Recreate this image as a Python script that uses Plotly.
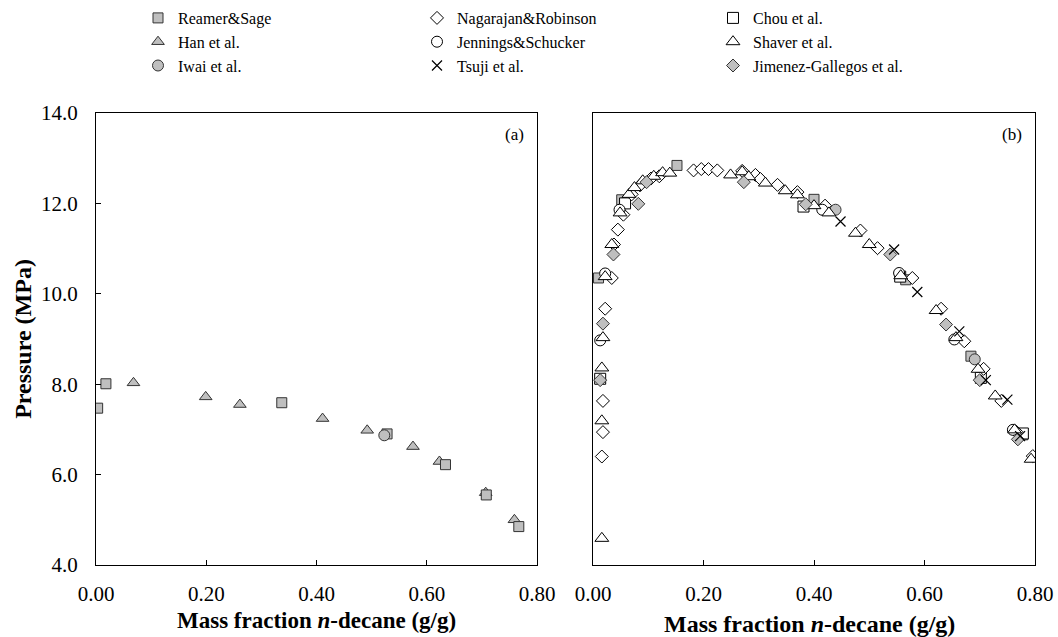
import plotly.graph_objects as go

# ---------------- Panel (a) data ----------------
a_reamer_x = [0.003, 0.018, 0.337, 0.528, 0.634, 0.708, 0.767]
a_reamer_p = [7.47, 8.01, 7.59, 6.90, 6.22, 5.55, 4.85]
a_han_x = [0.068, 0.199, 0.261, 0.411, 0.492, 0.575, 0.623, 0.707, 0.759]
a_han_p = [8.03, 7.72, 7.55, 7.24, 6.98, 6.62, 6.29, 5.60, 5.00]
a_iwai_x = [0.523]
a_iwai_p = [6.87]

# ---------------- Panel (b) data ----------------
b_reamer_x = [0.010, 0.052, 0.152, 0.400, 0.566, 0.684, 0.778]
b_reamer_p = [10.35, 12.08, 12.84, 12.09, 10.31, 8.62, 6.88]
b_nagarajan_x = [0.016, 0.018, 0.018, 0.022, 0.034, 0.038, 0.045, 0.055, 0.070, 0.085,
                 0.105, 0.120, 0.182, 0.196, 0.209, 0.225, 0.270, 0.294, 0.303, 0.334,
                 0.370, 0.420, 0.484, 0.515, 0.578, 0.630, 0.672, 0.707, 0.739, 0.766, 0.796]
b_nagarajan_p = [6.40, 6.94, 7.63, 9.67, 10.35, 11.09, 11.42, 11.75, 12.20, 12.40,
                 12.55, 12.60, 12.73, 12.76, 12.76, 12.73, 12.72, 12.63, 12.54, 12.41,
                 12.25, 11.95, 11.40, 11.01, 10.35, 9.67, 8.95, 8.34, 7.63, 6.95, 6.41]
b_chou_x = [0.013, 0.058, 0.381, 0.556, 0.702, 0.778]
b_chou_p = [8.12, 12.00, 11.93, 10.38, 8.14, 6.91]
b_jennings_x = [0.013, 0.022, 0.048, 0.415, 0.554, 0.654, 0.760]
b_jennings_p = [8.97, 10.45, 11.86, 11.86, 10.46, 8.99, 6.99]
b_shaver_x = [0.016, 0.016, 0.016, 0.018, 0.022, 0.034, 0.049, 0.065, 0.075, 0.090,
              0.110, 0.126, 0.139, 0.249, 0.270, 0.282, 0.312, 0.348, 0.370, 0.400,
              0.427, 0.475, 0.500, 0.557, 0.621, 0.657, 0.697, 0.728, 0.763, 0.793]
b_shaver_p = [4.59, 7.19, 8.36, 9.03, 10.38, 11.09, 11.79, 12.20, 12.35, 12.50,
              12.60, 12.68, 12.67, 12.63, 12.70, 12.59, 12.45, 12.28, 12.19, 11.95,
              11.79, 11.34, 11.09, 10.40, 9.63, 9.03, 8.33, 7.74, 6.99, 6.34]
b_iwai_x = [0.439, 0.691]
b_iwai_p = [11.86, 8.55]
b_tsuji_x = [0.448, 0.545, 0.587, 0.663, 0.711, 0.750, 0.773]
b_tsuji_p = [11.60, 10.98, 10.04, 9.17, 8.09, 7.66, 6.85]
b_jimenez_x = [0.013, 0.018, 0.037, 0.082, 0.097, 0.273, 0.385, 0.538, 0.639, 0.700, 0.769]
b_jimenez_p = [8.09, 9.34, 10.87, 11.99, 12.47, 12.47, 11.98, 10.87, 9.32, 8.09, 6.78]

x_ticks = [0.0, 0.2, 0.4, 0.6, 0.8]
y_ticks = [4, 6, 8, 10, 12, 14]

FONT = "Liberation Serif"
GRAY = "#BFBFBF"
EDGE = "#333333"

styles = {
    "Reamer&Sage": dict(symbol="square", size=10, color=GRAY, line=dict(color=EDGE, width=1)),
    "Han et al.": dict(symbol="triangle-up", size=11, color=GRAY, line=dict(color=EDGE, width=1)),
    "Iwai et al.": dict(symbol="circle", size=11, color=GRAY, line=dict(color=EDGE, width=1)),
    "Nagarajan&Robinson": dict(symbol="diamond", size=10, color="white", line=dict(color="black", width=1)),
    "Jennings&Schucker": dict(symbol="circle", size=11, color="white", line=dict(color="black", width=1)),
    "Tsuji et al.": dict(symbol="x-thin", size=10, color="black", line=dict(color="black", width=1.2)),
    "Chou et al.": dict(symbol="square", size=11, color="white", line=dict(color="black", width=1)),
    "Shaver et al.": dict(symbol="triangle-up", size=12, color="white", line=dict(color="black", width=1)),
    "Jimenez-Gallegos et al.": dict(symbol="diamond", size=10, color=GRAY, line=dict(color=EDGE, width=1)),
}
legend_of = {
    "Reamer&Sage": ("legend", 1), "Han et al.": ("legend", 2), "Iwai et al.": ("legend", 3),
    "Nagarajan&Robinson": ("legend2", 1), "Jennings&Schucker": ("legend2", 2), "Tsuji et al.": ("legend2", 3),
    "Chou et al.": ("legend3", 1), "Shaver et al.": ("legend3", 2), "Jimenez-Gallegos et al.": ("legend3", 3),
}

fig = go.Figure()

def add(name, x, y, xa, ya, show):
    lg, rank = legend_of[name]
    fig.add_trace(go.Scatter(
        x=x, y=y, mode="markers", name=name, marker=styles[name],
        xaxis=xa, yaxis=ya, showlegend=show, legend=lg, legendrank=rank))

# panel (a)
add("Han et al.", a_han_x, a_han_p, "x", "y", True)
add("Reamer&Sage", a_reamer_x, a_reamer_p, "x", "y", False)
add("Iwai et al.", a_iwai_x, a_iwai_p, "x", "y", False)

# panel (b)
add("Reamer&Sage", b_reamer_x, b_reamer_p, "x2", "y2", True)
add("Iwai et al.", b_iwai_x, b_iwai_p, "x2", "y2", True)
add("Chou et al.", b_chou_x, b_chou_p, "x2", "y2", True)
add("Nagarajan&Robinson", b_nagarajan_x, b_nagarajan_p, "x2", "y2", True)
add("Jennings&Schucker", b_jennings_x, b_jennings_p, "x2", "y2", True)
add("Shaver et al.", b_shaver_x, b_shaver_p, "x2", "y2", True)
add("Jimenez-Gallegos et al.", b_jimenez_x, b_jimenez_p, "x2", "y2", True)
add("Tsuji et al.", b_tsuji_x, b_tsuji_p, "x2", "y2", True)

W, H = 1058, 637
L, R, T, B = 96, 23, 113, 72
pw = W - L - R
ph = H - T - B

axis_common = dict(showgrid=False, zeroline=False, showline=True, linecolor="black",
                   linewidth=1, mirror=True, ticklen=5, tickcolor="black", automargin=False,
                   tickfont=dict(family=FONT, size=21, color="black"))

XTITLE = "<b>Mass fraction <i>n</i>-decane (g/g)</b>"

fig.update_layout(
    width=W, height=H, margin=dict(l=L, r=R, t=T, b=B, autoexpand=False),
    paper_bgcolor="white", plot_bgcolor="white",
    font=dict(family=FONT, color="black"),
    xaxis=dict(domain=[0, (537 - L) / pw], range=[0, 0.8], tickvals=x_ticks,
               tickformat=".2f", ticklabelstandoff=10, ticks="inside", **axis_common),
    yaxis=dict(domain=[0, 1], range=[4, 14], tickvals=y_ticks, tickformat=".1f",
               ticklabelstandoff=13, ticks="inside",
               title=dict(text="<b>Pressure (MPa)</b>", font=dict(family=FONT, size=24), standoff=2),
               **axis_common),
    xaxis2=dict(domain=[(593 - L) / pw, 1], range=[0, 0.8], tickvals=x_ticks,
                tickformat=".2f", ticklabelstandoff=10, anchor="y2", ticks="inside",
                **axis_common),
    yaxis2=dict(domain=[0, 1], range=[4, 14], tickvals=y_ticks, anchor="x2",
                showticklabels=False, ticks="", **axis_common),
)

# x-axis titles, placed under each panel
fig.add_annotation(text=XTITLE, xref="x domain", yref="paper", x=0.5, y=(T + ph - 620) / ph,
                   xanchor="center", yanchor="middle", showarrow=False,
                   font=dict(family=FONT, size=23, color="black"))
fig.add_annotation(text=XTITLE, xref="x2 domain", yref="paper", x=0.49, y=(T + ph - 624) / ph,
                   xanchor="center", yanchor="middle", showarrow=False,
                   font=dict(family=FONT, size=24, color="black"))

legend_common = dict(orientation="v", yanchor="top", xanchor="left", tracegroupgap=0,
                     font=dict(family=FONT, size=16, color="black"),
                     bgcolor="rgba(0,0,0,0)", borderwidth=0, itemsizing="trace")
ytop = 1 + (T - 1) / ph
fig.update_layout(
    legend=dict(x=(138 - L) / pw, y=ytop, **legend_common),
    legend2=dict(x=(417 - L) / pw, y=ytop, **legend_common),
    legend3=dict(x=(713 - L) / pw, y=ytop, **legend_common),
)

fig.add_annotation(text="(a)", xref="x domain", yref="y domain", x=0.95, y=0.953,
                   xanchor="center", yanchor="middle", showarrow=False,
                   font=dict(family=FONT, size=17, color="black"))
fig.add_annotation(text="(b)", xref="x2 domain", yref="y2 domain", x=0.948, y=0.953,
                   xanchor="center", yanchor="middle", showarrow=False,
                   font=dict(family=FONT, size=17, color="black"))

fig.write_html("out.html")
